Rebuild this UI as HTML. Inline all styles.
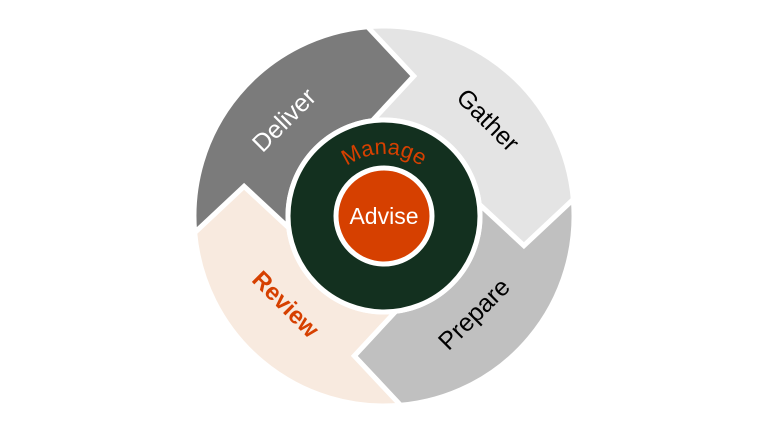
<!DOCTYPE html>
<html><head><meta charset="utf-8"><style>html,body{margin:0;padding:0;background:#fff}svg{display:block}</style></head>
<body>
<svg width="768" height="432" viewBox="0 0 768 432" xmlns="http://www.w3.org/2000/svg" font-family="Liberation Sans, sans-serif">
<defs>
<path id="seg" d="M367.4,26.7 A190,190 0 0 1 573.3,199.4 L523.9,245.7 L479.3,204.3 A96 96 0 0 0 372.3,120.7 L413.7,76.1 Z"/>
<path id="arc" d="M322,216 A62,62 0 0 1 446,216" />
</defs>
<circle cx="384" cy="216" r="190.5" fill="none" stroke="#555" stroke-width="1.2"/>
<use href="#seg" fill="#e4e4e4" stroke="#fff" stroke-width="5"/>
<use href="#seg" fill="#c0c0c0" stroke="#fff" stroke-width="5" transform="rotate(90 384 216)"/>
<use href="#seg" fill="#f8eadf" stroke="#fff" stroke-width="5" transform="rotate(180 384 216)"/>
<use href="#seg" fill="#7b7b7b" stroke="#fff" stroke-width="5" transform="rotate(270 384 216)"/>
<circle cx="384" cy="216" r="96" fill="#13301f" stroke="#fff" stroke-width="5"/>
<circle cx="384" cy="216" r="48" fill="#d64000" stroke="#fff" stroke-width="5"/>
<text x="384" y="224" font-size="23" fill="#fff" text-anchor="middle">Advise</text>
<text font-size="22" fill="#d64000" text-anchor="middle"><textPath href="#arc" startOffset="50%">Manage</textPath></text>
<text x="0" y="0" font-size="25" fill="#000" text-anchor="middle" transform="translate(482,126) rotate(45)">Gather</text>
<text x="0" y="0" font-size="25" fill="#000" text-anchor="middle" transform="translate(480,320) rotate(-45)">Prepare</text>
<text x="0" y="0" font-size="24" fill="#d64000" font-weight="bold" text-anchor="middle" transform="translate(280,310) rotate(45)">Review</text>
<text x="0" y="0" font-size="25" fill="#fff" text-anchor="middle" transform="translate(290,126) rotate(-45)">Deliver</text>
</svg>
</body></html>
